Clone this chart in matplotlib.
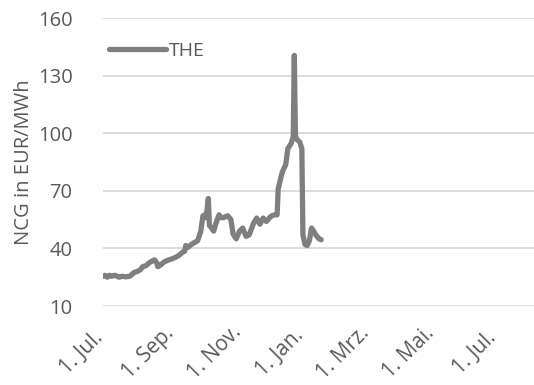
import matplotlib
matplotlib.use("Agg")
import matplotlib.pyplot as plt
import matplotlib.transforms as mtransforms
import numpy as np
import pandas as pd

# daily settlement prices, THE market area
dates = [
    "2021-07-01", "2021-07-03", "2021-07-05", "2021-07-07", "2021-07-09",
    "2021-07-12", "2021-07-14", "2021-07-16", "2021-07-19", "2021-07-22",
    "2021-07-26", "2021-07-28", "2021-07-30", "2021-08-02", "2021-08-05",
    "2021-08-07", "2021-08-10", "2021-08-13", "2021-08-16", "2021-08-18",
    "2021-08-20", "2021-08-21", "2021-08-24", "2021-08-27", "2021-08-31",
    "2021-09-03", "2021-09-07", "2021-09-10", "2021-09-13", "2021-09-15",
    "2021-09-16", "2021-09-18", "2021-09-21", "2021-09-24", "2021-09-27",
    "2021-09-30", "2021-10-02", "2021-10-04", "2021-10-05", "2021-10-07",
    "2021-10-08", "2021-10-10", "2021-10-12", "2021-10-14", "2021-10-17",
    "2021-10-19", "2021-10-21", "2021-10-25", "2021-10-28", "2021-10-30",
    "2021-11-02", "2021-11-05", "2021-11-08", "2021-11-11", "2021-11-14",
    "2021-11-16", "2021-11-18", "2021-11-21", "2021-11-24", "2021-11-27",
    "2021-11-30", "2021-12-03", "2021-12-05", "2021-12-08", "2021-12-10",
    "2021-12-11", "2021-12-14", "2021-12-15", "2021-12-18", "2021-12-20",
    "2021-12-23", "2021-12-25", "2021-12-26", "2021-12-27", "2021-12-28",
    "2021-12-31", "2022-01-02", "2022-01-03", "2022-01-05", "2022-01-07",
    "2022-01-09", "2022-01-11", "2022-01-13", "2022-01-15", "2022-01-18",
    "2022-01-20",
]
the_price = [
    25.5, 26.0, 25.0, 26.0, 25.5,
    26.0, 25.5, 25.0, 25.5, 25.2,
    25.5, 26.5, 27.5, 28.0, 29.0,
    30.5, 31.0, 32.5, 33.5, 34.0,
    32.5, 30.5, 31.5, 33.0, 34.0,
    34.5, 35.5, 36.5, 38.0, 38.5,
    41.5, 40.5, 42.0, 43.0, 44.0,
    49.0, 57.0, 57.5, 56.0, 66.0,
    52.0, 50.6, 49.0, 53.0, 57.5,
    56.0, 56.0, 57.0, 55.0, 47.5,
    45.0, 49.0, 50.6, 46.3, 47.0,
    50.0, 53.0, 55.8, 52.6, 55.8,
    54.0, 56.0, 57.0, 57.5, 57.5,
    71.0, 78.0, 80.0, 83.6, 92.0,
    94.6, 98.0, 140.5, 99.0, 97.0,
    95.4, 92.0, 47.0, 42.0, 41.5,
    44.0, 50.6, 49.0, 47.0, 45.0,
    44.5,
]

ticks = ["2021-07-01", "2021-09-01", "2021-11-01", "2022-01-01",
         "2022-03-01", "2022-05-01", "2022-07-01"]
tick_labels = ["1. Jul.", "1. Sep.", "1. Nov.", "1. Jan.",
               "1. Mrz.", "1. Mai.", "1. Jul."]

x = pd.to_datetime(dates)

plt.rcParams['font.family'] = ['Open Sans', 'DejaVu Sans']
text_color = '#595959'

fig = plt.figure(figsize=(5.34, 3.85), dpi=100)
ax = fig.add_axes([103 / 534, 1 - 306 / 385, 431 / 534, 288 / 385])

ax.plot(x, the_price, color='#7f7f7f', linewidth=3.8,
        solid_joinstyle='round', solid_capstyle='round', label='THE')

ax.set_ylim(10, 160)
ax.set_yticks(np.arange(10, 161, 30))
ax.set_xlim(pd.Timestamp("2021-07-01"), pd.Timestamp("2021-07-01") + pd.Timedelta(days=401))

# x labels drawn as text, each centred down-left of its tick
tick_dates = pd.to_datetime(ticks)
ax.set_xticks(tick_dates)
ax.set_xticklabels([])
offset = mtransforms.ScaledTranslation(-21 / 100, -47 / 100, fig.dpi_scale_trans)
for d, lab in zip(tick_dates, tick_labels):
    ax.text(d, 0, lab, transform=ax.get_xaxis_transform() + offset,
            rotation=45, rotation_mode='anchor', ha='center', va='center',
            fontsize=15, color=text_color, clip_on=False)

ax.grid(axis='y', color='#d9d9d9', linewidth=1.3)
ax.set_axisbelow(True)
for s in ax.spines.values():
    s.set_visible(False)
ax.tick_params(axis='both', length=0, colors=text_color)
ax.tick_params(axis='y', pad=22, labelsize=14.5)

ax.set_ylabel('NCG in EUR/MWh', fontsize=14.5, color=text_color, labelpad=3)

ax.legend(loc='upper left', bbox_to_anchor=(-0.018, 0.965), frameon=False,
          fontsize=14, labelcolor=text_color, handlelength=2.95,
          handletextpad=0.15, borderaxespad=0.3)

fig.savefig('out.png', dpi=100)
